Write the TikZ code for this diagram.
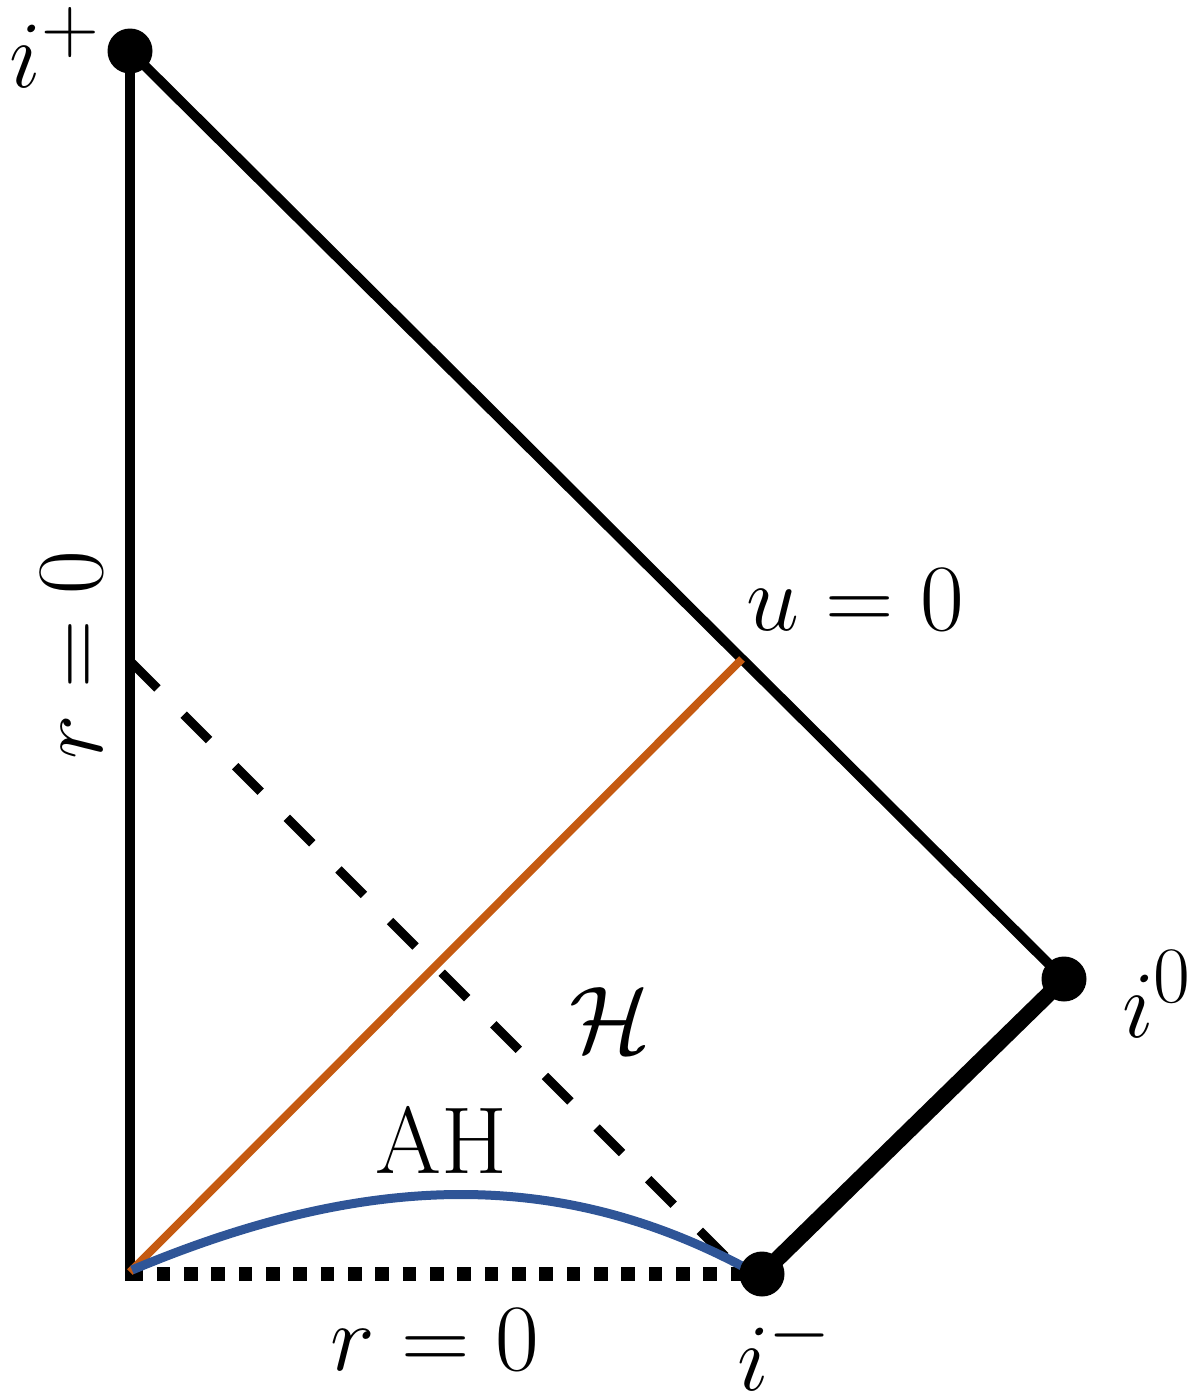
\RequirePackage{fix-cm}
\documentclass[tikz,border=0pt]{standalone}
\usepackage{amsmath}
\DeclareMathSizes{95}{95}{80}{62}
\definecolor{ahblue}{RGB}{47,85,151}
\definecolor{uorange}{RGB}{197,90,17}
\begin{document}
\begin{tikzpicture}[x=1pt,y=-1pt,
  dot/.style={circle,fill=black,inner sep=0pt,minimum size=45pt},
  lbl/.style={inner sep=0pt,font=\fontsize{95}{100}\selectfont},
  edge/.style={line width=10pt,black},
  thickedge/.style={line width=16pt,black},
  horizon/.style={line width=9pt,black,dash pattern=on 36pt off 37pt},
  singular/.style={line width=13.5pt,black,dash pattern=on 13.5pt off 13.83pt},
  shell/.style={line width=8pt,uorange},
  apparent/.style={line width=9pt,ahblue}]
\useasboundingbox (0,0) rectangle (1201,1398);
% points
\coordinate (ip) at (130,51);
\coordinate (io) at (1064,979);
\coordinate (im) at (762,1274);
\coordinate (rtop) at (130,51);
\coordinate (rbot) at (130,1281);
\coordinate (sl) at (129.5,1274);
\coordinate (hl) at (132,663);
\coordinate (hr) at (743,1274);
\coordinate (ol) at (130,1272);
\coordinate (or) at (742,659);
\coordinate (al) at (132,1270);
\coordinate (ar) at (742,1266);
% lines
\draw[edge] (rtop) -- (rbot);
\draw[edge] (ip) -- (io);
\draw[thickedge] (im) -- (io);
\draw[singular] (sl) -- (im);
\draw[horizon] (hl) -- (hr);
\draw[shell] (ol) -- (or);
\draw[apparent] (al) .. controls (370,1170) and (560,1170) .. (ar);
% dots
\node[dot] (dip) at (ip) {};
\node[dot] (dio) at (io) {};
\node[dot] (dim) at (im) {};
% labels
\node[lbl,anchor=base east] (tip) at (100,87) {$i^+$};
\node[lbl,anchor=base west] (tio) at (1122,1037) {$i^0$};
\node[lbl,anchor=base west] (tim) at (737,1390) {$i^-$};
\node[lbl,anchor=base] (tu) at (855,630) {$u=0$};
\node[lbl,anchor=base] (trb) at (435,1370) {$r=0$};
\node[lbl,anchor=base,rotate=90] (trl) at (102,655) {$r=0$};
\node[lbl,anchor=base] (tah) at (441,1173) {AH};
\node[lbl] (th) at (610,1020) {$\mathcal{H}$};
\end{tikzpicture}
\end{document}
